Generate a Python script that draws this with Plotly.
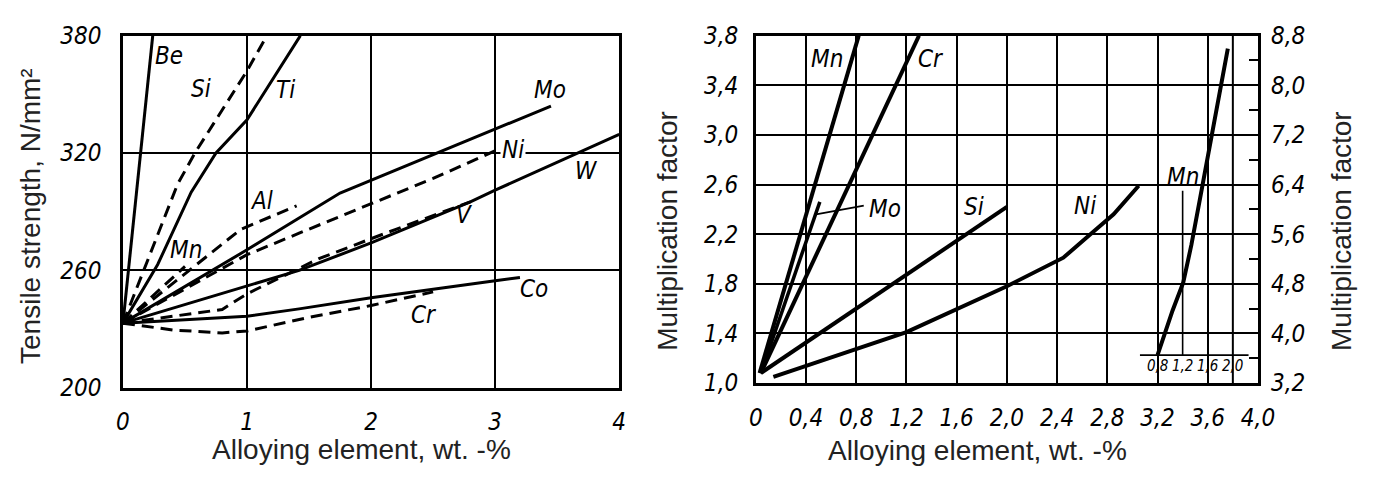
import plotly.graph_objects as go

# ---------------- Left panel data (tensile strength, N/mm2) ----------------
be_x = [0, 0.24];                          be_y = [233, 380]
si_x = [0, 0.21, 0.44, 0.58, 1.0, 1.16];   si_y = [233, 267, 304, 320, 362, 380]
ti_x = [0, 0.28, 0.55, 0.75, 1.0, 1.43];   ti_y = [233, 263, 300, 320, 337, 380]
mn_x = [0, 0.5];                           mn_y = [233, 262]
al_x = [0, 0.95, 1.4];                     al_y = [233, 281, 293]
mo_x = [0, 1.0, 1.75, 2.0, 3.0, 3.45];     mo_y = [233, 270.5, 299.5, 306, 332, 344]
ni_x = [0, 1.0, 1.42, 2.0, 2.5, 3.03];     ni_y = [233, 268, 279, 294, 307, 322]
w_x = [0, 1.42, 2.0, 2.8, 3.0, 4.0];       w_y = [233, 260, 274, 295, 301, 329.5]
v_x = [0, 0.8, 1.0, 1.58, 2.2, 2.8];       v_y = [233, 240, 248, 266, 281, 295]
co_x = [0, 1.0, 1.42, 2.0, 3.0, 3.2];      co_y = [233, 236.5, 240.3, 246, 254.7, 256.3]
cr_x = [0, 0.4, 0.8, 1.0, 1.5, 2.0, 2.5];  cr_y = [233, 229.5, 228, 229, 236, 242, 249]

left_xticks = [0, 1, 2, 3, 4]
left_yticks = [200, 260, 320, 380]

left_labels = ["Be", "Si", "Ti", "Al", "Mn", "Mo", "Ni", "W", "V", "Co", "Cr"]
left_label_x = [0.37, 0.63, 1.31, 1.12, 0.51, 3.44, 3.14, 3.74, 2.75, 3.31, 2.42]
left_label_y = [369.5, 352.5, 352, 295.5, 270.5, 352, 321.3, 311, 288.5, 250.5, 237]

# ---------------- Right panel data (multiplication factor) ----------------
rmn_x = [0.03, 0.82];   rmn_y = [1.08, 3.8]
rcr_x = [0.04, 1.30];   rcr_y = [1.08, 3.8]
rmo_x = [0.04, 0.51];   rmo_y = [1.08, 2.46]
rsi_x = [0.04, 2.0];    rsi_y = [1.08, 2.42]
rni_x = [0.14, 1.2, 2.0, 2.45, 2.7, 2.85, 3.05]
rni_y = [1.05, 1.41, 1.78, 2.01, 2.23, 2.36, 2.59]
mo_leader_x = [0.48, 0.86]; mo_leader_y = [2.36, 2.43]

# inset: Mn on its own scale (right axis)
inset_mn_x = [0.80, 1.04, 1.21, 1.34, 1.48, 1.65, 1.80, 1.92]
inset_mn_y = [3.65, 4.37, 4.82, 5.43, 6.19, 7.13, 7.98, 8.59]
inset_axis_x = [0.52, 2.25]; inset_axis_y = [3.65, 3.65]
inset_lead_x = [1.2, 1.2];   inset_lead_y = [3.65, 6.30]
inset_grid_x = [2.0, 2.0];   inset_grid_y = [3.2, 8.8]
inset_ticks = [0.8, 1.2, 1.6, 2.0]
inset_ticktext = ["0,8", "1,2", "1,6", "2,0"]

right_xticks = [0, 0.4, 0.8, 1.2, 1.6, 2.0, 2.4, 2.8, 3.2, 3.6, 4.0]
right_xticktext = ["0", "0,4", "0,8", "1,2", "1,6", "2,0", "2,4", "2,8", "3,2", "3,6", "4,0"]
right_yticks = [1.0, 1.4, 1.8, 2.2, 2.6, 3.0, 3.4, 3.8]
right_yticktext = ["1,0", "1,4", "1,8", "2,2", "2,6", "3,0", "3,4", "3,8"]
right2_yticks = [3.2, 4.0, 4.8, 5.6, 6.4, 7.2, 8.0, 8.8]
right2_yticktext = ["3,2", "4,0", "4,8", "5,6", "6,4", "7,2", "8,0", "8,8"]

right_labels = ["Mn", "Cr", "Mo", "Si", "Ni", "Mn"]
right_label_x = [0.57, 1.39, 1.03, 1.74, 2.62, 3.40]
right_label_y = [3.61, 3.61, 2.40, 2.42, 2.43, 2.66]

# ---------------- Figure ----------------
W, H = 1386, 477
TICKFONT = dict(family="DejaVu Sans Condensed, DejaVu Sans", size=24, color="black", style="italic")
LABELFONT = dict(family="DejaVu Sans Condensed, DejaVu Sans", size=24, color="black", style="italic")
INSETFONT = dict(family="DejaVu Sans Condensed, DejaVu Sans", size=15,
                 color="black", style="italic")
TITLEFONT = dict(family="Liberation Sans, Arial", size=28, color="#222222")
DASH = "12px,7px"

fig = go.Figure()


def add(x, y, dash="solid", xa="x", ya="y", width=3):
    fig.add_trace(go.Scatter(x=x, y=y, mode="lines", xaxis=xa, yaxis=ya,
                             line=dict(color="black", width=width, dash=dash),
                             showlegend=False, hoverinfo="skip"))


# left
add(be_x, be_y)
add(si_x, si_y, DASH)
add(ti_x, ti_y)
add(mn_x, mn_y, DASH)
add(al_x, al_y, DASH)
add(mo_x, mo_y)
add(ni_x, ni_y, DASH)
add(w_x, w_y)
add(v_x, v_y, DASH)
add(co_x, co_y)
add(cr_x, cr_y, DASH)

# right
add(rmn_x, rmn_y, xa="x2", ya="y2", width=4)
add(rcr_x, rcr_y, xa="x2", ya="y2", width=4)
add(rmo_x, rmo_y, xa="x2", ya="y2", width=3.5)
add(rsi_x, rsi_y, xa="x2", ya="y2", width=4)
add(rni_x, rni_y, xa="x2", ya="y2", width=4)
add(mo_leader_x, mo_leader_y, xa="x2", ya="y2", width=1.8)

# inset
add(inset_grid_x, inset_grid_y, xa="x3", ya="y3", width=2)
add(inset_axis_x, inset_axis_y, xa="x3", ya="y3", width=1.6)
add(inset_lead_x, inset_lead_y, xa="x3", ya="y3", width=1.6)
add(inset_mn_x, inset_mn_y, xa="x3", ya="y3", width=4)

ann = []
for t, x, y in zip(left_labels, left_label_x, left_label_y):
    a = dict(text=t, x=x, y=y, xref="x", yref="y", showarrow=False, font=LABELFONT)
    if t == "Ni":
        a["bgcolor"] = "white"
    ann.append(a)
for t, x, y in zip(right_labels, right_label_x, right_label_y):
    ann.append(dict(text=t, x=x, y=y, xref="x2", yref="y2", showarrow=False, font=LABELFONT))
for v, t in zip(inset_ticks, inset_ticktext):
    ann.append(dict(text=t, x=v, y=inset_axis_y[0], xref="x3", yref="y3", yanchor="top",
                    xanchor="center", showarrow=False, yshift=-1, borderpad=0,
                    font=INSETFONT))

# axis titles
def title(text, px, py, angle=0):
    return dict(text=text, x=px / W, y=1 - py / H, xref="paper", yref="paper",
                xanchor="center", yanchor="middle", textangle=angle, borderpad=0,
                showarrow=False, font=TITLEFONT)


ann += [
    title("Tensile strength, N/mm²", 24, 215, -90),
    title("Alloying element, wt. -%", 361, 463),
    title("Multiplication factor", 672, 230, -90),
    title("Multiplication factor", 1358, 230, -90),
    title("Alloying element, wt. -%", 988, 464),
]

axis_common = dict(showline=True, mirror=True, linecolor="black", linewidth=2.5,
                   showgrid=True, gridcolor="black", zeroline=False, ticks="",
                   tickfont=TICKFONT)

fig.update_layout(
    width=W, height=H,
    margin=dict(l=0, r=0, t=0, b=0),
    paper_bgcolor="white", plot_bgcolor="white",
    showlegend=False,
    xaxis=dict(domain=[118 / W, 623 / W], range=[0, 4], tickvals=left_xticks,
               gridwidth=1.5, anchor="y", ticklabelstandoff=11, **axis_common),
    yaxis=dict(domain=[1 - 397 / H, 1 - 23 / H], range=[200, 380], tickvals=left_yticks,
               gridwidth=1.5, anchor="x", ticklabelstandoff=14, **axis_common),
    xaxis2=dict(domain=[762 / W, 1273 / W], range=[0, 4], tickvals=right_xticks,
                ticktext=right_xticktext, gridwidth=2, anchor="y2",
                ticklabelstandoff=11, **axis_common),
    yaxis2=dict(domain=[1 - 392 / H, 1 - 23 / H], range=[1.0, 3.8], tickvals=right_yticks,
                ticktext=right_yticktext, gridwidth=2, anchor="x2",
                ticklabelstandoff=10, **axis_common),
    xaxis3=dict(overlaying="x2", anchor="y2", range=[-5.6, 2.4], visible=False),
    yaxis3=dict(overlaying="y2", anchor="x2", side="right", range=[3.2, 8.8],
                tickvals=right2_yticks, ticktext=right2_yticktext, showgrid=False,
                zeroline=False, showline=False, ticks="inside", ticklen=9, tickwidth=2,
                tickcolor="black", tickfont=TICKFONT, ticklabelstandoff=12,
                minor=dict(dtick=0.4, tick0=3.2, ticks="inside", ticklen=9, tickwidth=2,
                           tickcolor="black", showgrid=False)),
    annotations=ann,
)

fig.write_html("out.html")
